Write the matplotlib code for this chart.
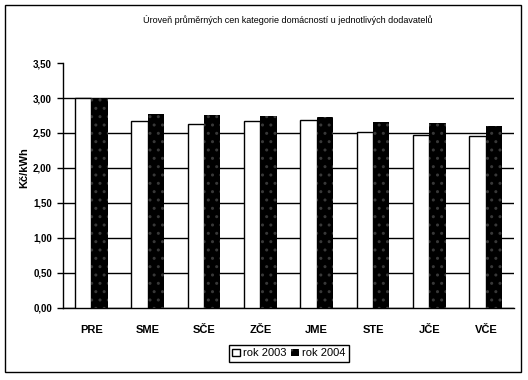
import numpy as np
import matplotlib
matplotlib.use("Agg")
import matplotlib.pyplot as plt
from matplotlib.patches import Rectangle

plt.rcParams['font.family'] = ['Liberation Sans', 'DejaVu Sans']

# data
dodavatele = ['PRE', 'SME', 'SČE', 'ZČE', 'JME', 'STE', 'JČE', 'VČE']
rok2003 = [3.00, 2.67, 2.63, 2.67, 2.68, 2.52, 2.47, 2.45]
rok2004 = [3.00, 2.77, 2.76, 2.74, 2.73, 2.66, 2.64, 2.60]
yticks = [0.0, 0.5, 1.0, 1.5, 2.0, 2.5, 3.0, 3.5]

fig = plt.figure(figsize=(5.28, 3.80), dpi=100)
ax = fig.add_axes([0.1193, 0.1895, 0.8542, 0.6447])

x = np.arange(len(dodavatele))
w = 0.29
ax.bar(x - w/2, rok2003, w, color='white', edgecolor='black', linewidth=1.0,
       label='rok 2003', zorder=3)
ax.bar(x + w/2, rok2004, w, color='black', edgecolor='#383838', hatch='..',
       linewidth=0, label='rok 2004', zorder=3)

ax.set_xlim(-0.5, len(dodavatele) - 0.5)
ax.set_ylim(0, 3.5)
ax.set_yticks(yticks)
ax.set_yticklabels([('%.2f' % v).replace('.', ',') for v in yticks],
                   fontsize=7, fontweight='bold')
ax.set_xticks(x)
ax.set_xticklabels(dodavatele, fontsize=8, fontweight='bold')
ax.tick_params(axis='x', length=0, pad=12)
ax.tick_params(axis='y', length=4, width=1, pad=4)

ax.grid(axis='y', color='black', linewidth=1, zorder=1)
ax.set_axisbelow(True)
ax.yaxis.get_gridlines()[-1].set_visible(False)  # no line at 3,50

for s in ['top', 'right']:
    ax.spines[s].set_visible(False)
ax.spines['left'].set_linewidth(1)
ax.spines['bottom'].set_linewidth(1)

fig.text(0.046, 0.56, 'Kč/kWh', rotation=90, ha='center', va='center',
         fontsize=8, fontweight='bold')
fig.text(0.545, 0.947, 'Úroveň průměrných cen kategorie domácností u jednotlivých dodavatelů',
         ha='center', va='center', fontsize=6.5, fontweight='medium')

leg = fig.legend(loc='center', bbox_to_anchor=(0.547, 0.07), ncol=2,
                 fontsize=8, fancybox=False, edgecolor='black', framealpha=1,
                 handlelength=0.7, handleheight=0.7, handletextpad=0.3,
                 columnspacing=0.4, borderpad=0.3, borderaxespad=0)
leg.get_frame().set_linewidth(1)

# outer chart border
fig.patches.append(Rectangle((0.0095, 0.021), 0.977, 0.966, transform=fig.transFigure,
                             fill=False, edgecolor='black', linewidth=1))

fig.savefig('out.png', dpi=100)
